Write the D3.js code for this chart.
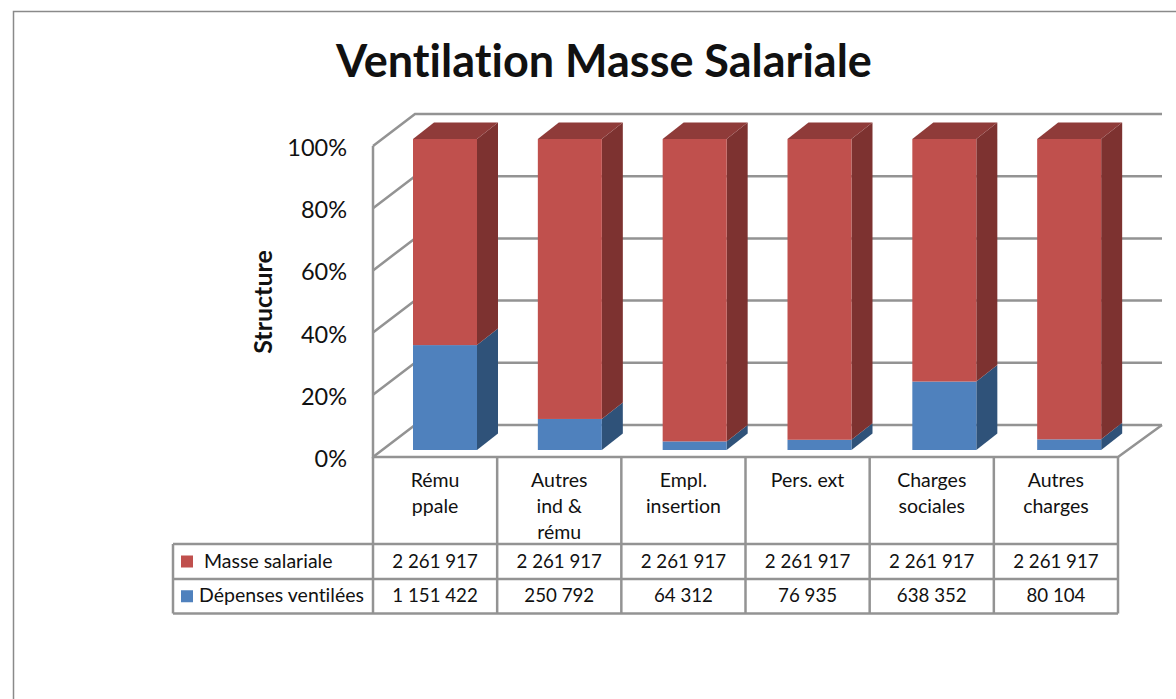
<!DOCTYPE html>
<html>
<head>
<meta charset="utf-8">
<script src="https://cdn.jsdelivr.net/npm/d3@7"></script>
<style>
  html, body { margin: 0; padding: 0; background: #fff; }
  svg { display: block; }
  text { font-family: Lato, "Open Sans", sans-serif; fill: #111; font-variant-ligatures: none; }
</style>
</head>
<body>
<svg id="chart" width="1176" height="699" role="img" aria-label="Ventilation Masse Salariale"></svg>
<script>
const categories = ['Rému ppale', 'Autres ind & rému', 'Empl. insertion', 'Pers. ext', 'Charges sociales', 'Autres charges'];
const categoryLines = [['Rému', 'ppale'], ['Autres', 'ind &', 'rému'], ['Empl.', 'insertion'], ['Pers. ext'], ['Charges', 'sociales'], ['Autres', 'charges']];
const masseSalariale = [2261917, 2261917, 2261917, 2261917, 2261917, 2261917];
const depensesVentilees = [1151422, 250792, 64312, 76935, 638352, 80104];
const percentTicks = [0, 0.2, 0.4, 0.6, 0.8, 1];

const colors = {
    masse: { front: '#c0504d', side: '#7d3230', top: '#8f3b39' },
    depenses: { front: '#4f81bd', side: '#2f5279', top: '#3a6191' }
};
const gridColor = '#939393';
const formatNumber = (value) => d3.format(',')(value).replace(/,/g, ' ');

const svg = d3.select('#chart');

// chart frame, cut by the page on the right and at the bottom
svg.append('path')
    .attr('d', d3.line()([[13.5, 699], [13.5, 11.5], [1176, 11.5]]))
    .attr('fill', 'none')
    .attr('stroke', '#8a8a8a')
    .attr('stroke-width', 1.5);

svg.append('text')
    .attr('x', 604)
    .attr('y', 77)
    .attr('text-anchor', 'middle')
    .attr('font-size', 45)
    .attr('font-weight', 700)
    .text('Ventilation Masse Salariale');

const xScale = d3.scaleBand().domain(categories).range([373, 1118]);
const xBars = d3.scaleBand().domain(categories).range([373, 1122]);
const yWall = d3.scaleLinear().domain([0, 1]).range([457, 146]);
const yBar = d3.scaleLinear().domain([0, 1]).range([450, 139]);
const wall = { dx: 42, dy: -32 };
const depth = { dx: 21, dy: -16.5 };
const barOffset = 40;
const barWidth = 64;

// walls and floor
const walls = svg.append('g').attr('fill', 'none').attr('stroke', gridColor).attr('stroke-width', 2.5);
percentTicks.forEach((tick) => {
    const y = yWall(tick);
    walls.append('path').attr('d', d3.line()([[373, y], [373 + wall.dx, y + wall.dy], [1162, y + wall.dy]]));
});
walls.append('path').attr('d', d3.line()([[373, yWall(1)], [373, yWall(0)], [1118, yWall(0)], [1162, yWall(0) + wall.dy]]));

// stacked bars
const rows = categories.map((category, i) => ({
    category,
    depenses: depensesVentilees[i],
    masse: masseSalariale[i]
}));
const series = d3.stack().keys(['depenses', 'masse']).offset(d3.stackOffsetExpand)(rows);
const line = d3.line();

const bars = svg.append('g');
series.forEach((layer) => {
    const palette = colors[layer.key];
    layer.forEach((d) => {
        const x0 = xBars(d.data.category) + barOffset;
        const x1 = x0 + barWidth;
        const yLow = yBar(d[0]);
        const yHigh = yBar(d[1]);
        bars.append('path')
            .attr('fill', palette.side)
            .attr('d', line([[x1, yLow], [x1 + depth.dx, yLow + depth.dy], [x1 + depth.dx, yHigh + depth.dy], [x1, yHigh]]) + 'Z');
        if (layer.key === 'masse') {
            bars.append('path')
                .attr('fill', palette.top)
                .attr('d', line([[x0, yHigh], [x0 + depth.dx, yHigh + depth.dy], [x1 + depth.dx, yHigh + depth.dy], [x1, yHigh]]) + 'Z');
        }
        bars.append('rect')
            .attr('x', x0)
            .attr('y', yHigh)
            .attr('width', barWidth)
            .attr('height', yLow - yHigh)
            .attr('fill', palette.front);
    });
});

// value axis
const axis = svg.append('g')
    .attr('transform', 'translate(373,2)')
    .call(d3.axisLeft(yWall).tickValues(percentTicks).tickSize(0).tickPadding(26).tickFormat(d3.format('.0%')));
axis.select('.domain').remove();
axis.selectAll('text').attr('font-size', 23.5).attr('font-family', 'Lato, sans-serif').attr('fill', '#111');

svg.append('text')
    .attr('transform', 'translate(272,302) rotate(-90)')
    .attr('text-anchor', 'middle')
    .attr('font-size', 25)
    .attr('font-weight', 700)
    .text('Structure');

// data table
const tableRows = [
    { label: 'Masse salariale', values: masseSalariale, color: colors.masse.front, top: 544, bottom: 579, textX: 204 },
    { label: 'Dépenses ventilées', values: depensesVentilees, color: colors.depenses.front, top: 579, bottom: 613.5, textX: 199 }
];
const table = svg.append('g');
const grid = table.append('g').attr('stroke', gridColor).attr('stroke-width', 2.5).attr('fill', 'none');
const tableLeft = 173;
const headerBottom = 544;

xScale.domain().forEach((category) => {
    const x = xScale(category);
    grid.append('line').attr('x1', x).attr('x2', x).attr('y1', yWall(0)).attr('y2', 613.5);
});
grid.append('line').attr('x1', 1118).attr('x2', 1118).attr('y1', yWall(0)).attr('y2', 613.5);
grid.append('line').attr('x1', tableLeft).attr('x2', tableLeft).attr('y1', headerBottom).attr('y2', 613.5);
[544, 579, 613.5].forEach((y) => {
    grid.append('line').attr('x1', tableLeft).attr('x2', 1118).attr('y1', y).attr('y2', y);
});

categories.forEach((category, i) => {
    categoryLines[i].forEach((text, j) => {
        table.append('text')
            .attr('x', xScale(category) + xScale.bandwidth() / 2)
            .attr('y', 487 + j * 26)
            .attr('text-anchor', 'middle')
            .attr('font-size', 19.5)
            .text(text);
    });
});

tableRows.forEach((row) => {
    const mid = (row.top + row.bottom) / 2;
    table.append('rect')
        .attr('x', 181)
        .attr('y', mid - 6)
        .attr('width', 12)
        .attr('height', 12)
        .attr('fill', row.color);
    table.append('text')
        .attr('x', row.textX)
        .attr('y', mid + 6)
        .attr('font-size', 19.5)
        .text(row.label);
    row.values.forEach((value, i) => {
        table.append('text')
            .attr('x', xScale(categories[i]) + xScale.bandwidth() / 2)
            .attr('y', mid + 6)
            .attr('text-anchor', 'middle')
            .attr('font-size', 18.7)
            .text(formatNumber(value));
    });
});
</script>
</body>
</html>
